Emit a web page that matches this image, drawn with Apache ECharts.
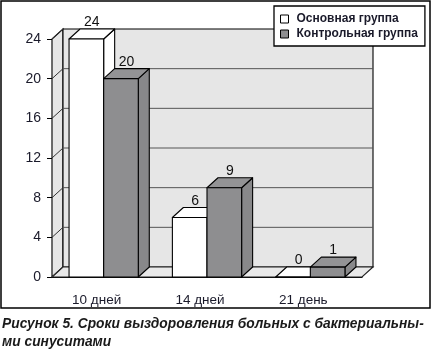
<!DOCTYPE html>
<html><head><meta charset="utf-8">
<script src="https://cdn.jsdelivr.net/npm/echarts@6/dist/echarts.min.js"></script>
<style>html,body{margin:0;padding:0;background:#fff}#c{width:439px;height:350px}</style>
</head><body><div id="c"></div>
<script>
const categories = ['10 дней', '14 дней', '21 день'];
const seriesNames = ['Основная группа', 'Контрольная группа'];
const mainGroup = [24, 6, 0];
const controlGroup = [20, 9, 1];
const yTicks = [0, 4, 8, 12, 16, 20, 24];
const captionLines = ['Рисунок 5. Сроки выздоровления больных с бактериальны-', 'ми синуситами'];

const DX = 11, DY = -10;
const FONT = '"Liberation Sans", Arial, sans-serif';
const GRAY = '#8e8e90';

function barRender(side, fill, sideFill, topFill) {
  return function (params, api) {
    const cat = api.value(0), val = api.value(1);
    const p = api.coord([cat, val]);
    const base = api.coord([cat, 0]);
    const band = api.size([1, 0])[0];
    const bw = band * 0.335;
    const x0 = side < 0 ? p[0] - bw : p[0];
    const x1 = x0 + bw;
    const yt = p[1], yb = base[1];
    const st = { stroke: '#000', lineWidth: 1.1, lineJoin: 'round' };
    return { type: 'group', children: [
      { type: 'polygon', shape: { points: [[x1, yb], [x1 + DX, yb + DY], [x1 + DX, yt + DY], [x1, yt]] }, style: Object.assign({ fill: sideFill }, st) },
      { type: 'polygon', shape: { points: [[x0, yt], [x0 + DX, yt + DY], [x1 + DX, yt + DY], [x1, yt]] }, style: Object.assign({ fill: topFill }, st) },
      { type: 'rect', shape: { x: x0, y: yt, width: bw, height: yb - yt }, style: Object.assign({ fill: fill }, st) },
      { type: 'text', x: (x0 + x1) / 2 + DX / 2, y: yt + DY + 0.5, style: { text: String(val), fill: '#111', font: '14px ' + FONT, align: 'center', verticalAlign: 'bottom' } }
    ] };
  };
}

function wallRender(params, api) {
  const cs = params.coordSys;
  const x = cs.x, y = cs.y, w = cs.width, h = cs.height, yb = y + h;
  const ws = { fill: '#e6e6e6', stroke: '#000', lineWidth: 1.1 };
  const kids = [
    { type: 'polygon', shape: { points: [[x, y], [x + DX, y + DY], [x + DX, yb + DY], [x, yb]] }, style: ws },
    { type: 'rect', shape: { x: x + DX, y: y + DY, width: w, height: h }, style: ws },
    { type: 'polygon', shape: { points: [[x, yb], [x + DX, yb + DY], [x + w + DX, yb + DY], [x + w, yb]] }, style: { fill: '#e9e9e9', stroke: '#222', lineWidth: 1.1 } }
  ];
  yTicks.forEach(function (v) {
    const py = api.coord([0, v])[1];
    if (v > 0 && v < yTicks[yTicks.length - 1]) {
      kids.push({ type: 'line', shape: { x1: x + DX, y1: py + DY, x2: x + w + DX, y2: py + DY }, style: { stroke: '#555', lineWidth: 1 } });
    }
    kids.push({ type: 'line', shape: { x1: x, y1: py, x2: x + DX, y2: py + DY }, style: { stroke: '#333', lineWidth: 1 } });
  });
  return { type: 'group', children: kids };
}

const chart = echarts.init(document.getElementById('c'), null, { renderer: 'canvas' });
chart.setOption({
  animation: false,
  backgroundColor: '#fff',
  grid: { left: 52, top: 39, right: 77, bottom: 73 },
  legend: {
    orient: 'vertical', left: 274, top: 6,
    padding: [7, 7, 6, 6], itemGap: 3, itemWidth: 8, itemHeight: 8,
    borderColor: '#000', borderWidth: 1.3, backgroundColor: '#fff',
    icon: 'rect',
    textStyle: { fontFamily: FONT, fontSize: 12, fontWeight: 'bold', color: '#1a1a2a', padding: [0, 0, 0, 3] },
    data: [
      { name: seriesNames[0], itemStyle: { color: '#fff', borderColor: '#000', borderWidth: 1 } },
      { name: seriesNames[1], itemStyle: { color: GRAY, borderColor: '#000', borderWidth: 1 } }
    ]
  },
  xAxis: {
    type: 'category', data: categories,
    axisLine: { lineStyle: { color: '#000', width: 1.1 } },
    axisTick: { length: 5, lineStyle: { color: '#000' } },
    axisLabel: { color: '#1a1a2a', fontFamily: FONT, fontSize: 13.5, margin: 16, padding: [0, 14, 0, 0] }
  },
  yAxis: {
    type: 'value', min: 0, max: 24, interval: 4,
    axisLine: { show: true, lineStyle: { color: '#000', width: 1.1 } },
    axisTick: { show: true, length: 5, lineStyle: { color: '#000' } },
    axisLabel: { color: '#1a1a2a', fontFamily: FONT, fontSize: 14, margin: 11 },
    splitLine: { show: false }
  },
  series: [
    { type: 'custom', name: 'walls', z: 1, renderItem: wallRender, data: [[0, 0]], silent: true },
    { type: 'custom', name: seriesNames[0], z: 2, renderItem: barRender(-1, '#fff', '#fff', '#fff'),
      itemStyle: { color: '#fff', borderColor: '#000' },
      data: mainGroup.map(function (v, i) { return [i, v]; }) },
    { type: 'custom', name: seriesNames[1], z: 3, renderItem: barRender(1, GRAY, '#88888a', '#939395'),
      itemStyle: { color: GRAY, borderColor: '#000' },
      data: controlGroup.map(function (v, i) { return [i, v]; }) }
  ],
  graphic: [
    { type: 'rect', silent: true, z: 10, shape: { x: 1, y: 1, width: 429, height: 307 }, style: { fill: 'transparent', stroke: '#000', lineWidth: 1.5 } },
    { type: 'text', left: 2, top: 317, style: { text: captionLines[0], font: 'italic bold 13.8px ' + FONT, fill: '#1a1a1a' } },
    { type: 'text', left: 2, top: 335, style: { text: captionLines[1], font: 'italic bold 13.8px ' + FONT, fill: '#1a1a1a' } }
  ]
});
</script></body></html>
